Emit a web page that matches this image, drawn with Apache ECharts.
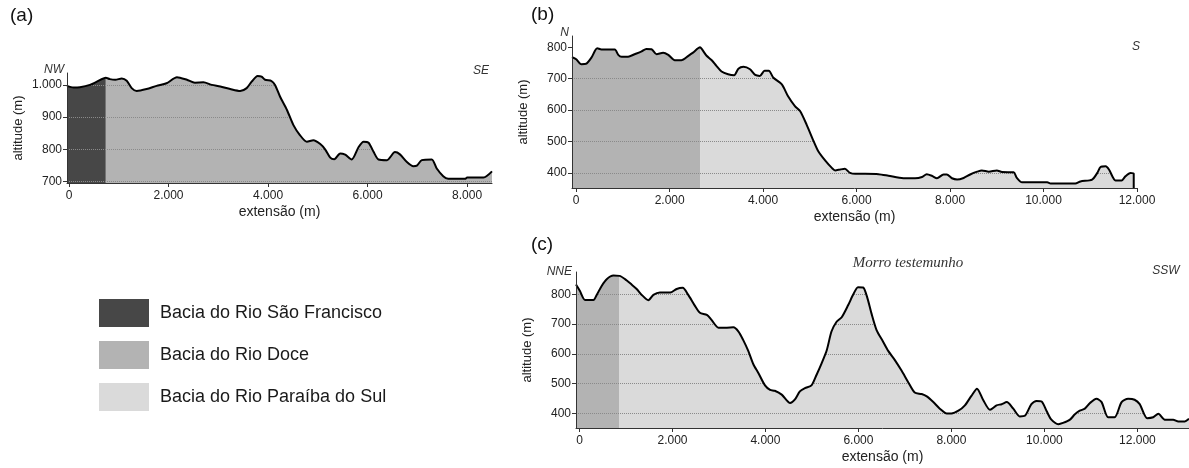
<!DOCTYPE html>
<html lang="pt">
<head>
<meta charset="utf-8">
<title>Perfis topográficos</title>
<script src="https://cdn.jsdelivr.net/npm/echarts@6/dist/echarts.min.js"></script>
<style>
  html, body { margin: 0; padding: 0; background: #ffffff; }
  #chart { width: 1189px; height: 468px; }
</style>
</head>
<body>
<div id="chart"></div>
<script>
// Bacias hidrográficas atravessadas pelos perfis
const basins = ['Bacia do Rio São Francisco', 'Bacia do Rio Doce', 'Bacia do Rio Paraíba do Sul'];
const basinColors = ['#474747', '#b3b3b3', '#dadada'];

// Perfil (a): extensão (m), altitude (m)
const profileA = [
  [-40, 997], [90, 992], [220, 993], [420, 1000], [560, 1010], [740, 1022], [820, 1018], [930, 1016],
  [1060, 1020], [1160, 1013], [1260, 990], [1360, 981], [1560, 987], [1760, 997], [1960, 1005],
  [2170, 1024], [2370, 1016], [2530, 1007], [2700, 1008], [2870, 1000], [3040, 995], [3240, 987],
  [3440, 981], [3570, 990], [3670, 1010], [3790, 1028], [3870, 1026], [3940, 1016], [4070, 1012],
  [4140, 1000], [4240, 964], [4380, 922], [4510, 875], [4640, 844], [4780, 823], [4910, 828],
  [5050, 816], [5150, 799], [5250, 774], [5330, 769], [5450, 787], [5550, 783], [5680, 768],
  [5820, 807], [5920, 823], [6020, 820], [6120, 792], [6220, 768], [6390, 766], [6550, 791],
  [6650, 784], [6790, 760], [6920, 747], [6990, 749], [7090, 766], [7290, 768], [7390, 740],
  [7520, 716], [7620, 708], [7960, 708], [8000, 712], [8330, 712], [8500, 731]
];
// Perfil (b)
const profileB = [
  [-90, 769], [0, 762], [110, 746], [220, 748], [325, 767], [450, 797], [540, 793], [825, 793],
  [900, 776], [970, 770], [1110, 770], [1250, 778], [1400, 787], [1500, 795], [1610, 794],
  [1720, 778], [1860, 783], [1970, 776], [2110, 759], [2250, 759], [2400, 773], [2500, 783],
  [2650, 800], [2690, 794], [2790, 773], [2900, 759], [3000, 741], [3110, 723], [3250, 714],
  [3380, 711], [3470, 732], [3580, 738], [3720, 730], [3830, 712], [3930, 709], [4030, 725],
  [4120, 725], [4220, 703], [4400, 682], [4530, 645], [4680, 613], [4790, 597], [4930, 554],
  [5080, 501], [5180, 469], [5330, 439], [5470, 416], [5540, 408], [5650, 411], [5750, 413],
  [5860, 400], [5970, 397], [6180, 397], [6470, 396], [6680, 391], [7000, 383], [7250, 383],
  [7400, 387], [7500, 396], [7610, 391], [7720, 383], [7860, 395], [7930, 395], [8040, 383],
  [8150, 379], [8290, 384], [8430, 395], [8580, 404], [8680, 408], [8830, 404], [9000, 408],
  [9110, 403], [9360, 402], [9430, 384], [9540, 370], [9750, 370], [10080, 370], [10150, 366],
  [10680, 366], [10790, 373], [11040, 379], [11150, 400], [11220, 419], [11330, 421],
  [11400, 411], [11540, 376], [11670, 376], [11750, 389], [11860, 400], [11930, 397]
];
// Perfil (c)
const profileC = [
  [-75, 833], [10, 811], [120, 781], [300, 781], [370, 798], [480, 829], [585, 851], [730, 863],
  [860, 862], [980, 851], [1120, 833], [1230, 818], [1340, 798], [1480, 780], [1590, 798],
  [1730, 806], [1950, 806], [2090, 818], [2220, 822], [2340, 798], [2480, 762], [2590, 738],
  [2740, 731], [2840, 714], [2990, 688], [3170, 688], [3310, 689], [3420, 675], [3520, 647],
  [3630, 610], [3740, 565], [3850, 535], [3990, 494], [4100, 479], [4200, 476], [4350, 463],
  [4530, 435], [4630, 446], [4740, 474], [4850, 485], [4990, 494], [5100, 530], [5210, 569],
  [5320, 613], [5420, 675], [5530, 708], [5640, 723], [5780, 764], [5890, 800], [5990, 824],
  [6100, 823], [6190, 789], [6280, 736], [6390, 680], [6530, 641], [6640, 610], [6780, 580],
  [6930, 543], [7070, 505], [7210, 470], [7360, 465], [7470, 457], [7610, 438], [7750, 416],
  [7900, 400], [8000, 400], [8150, 409], [8290, 427], [8430, 459], [8550, 483], [8680, 446],
  [8830, 412], [8970, 427], [9080, 431], [9190, 438], [9330, 416], [9470, 390], [9580, 392],
  [9720, 431], [9830, 442], [9940, 440], [10050, 407], [10150, 379], [10300, 364], [10400, 368],
  [10550, 379], [10650, 396], [10760, 409], [10870, 416], [10980, 435], [11120, 449],
  [11230, 438], [11370, 387], [11510, 387], [11660, 438], [11800, 449], [11940, 446],
  [12050, 431], [12210, 384], [12340, 387], [12450, 399], [12590, 379], [12770, 379],
  [12880, 373], [13020, 373], [13110, 382]
];

// Divisores de águas (extensão, m) e bacias à esquerda/direita de cada um
const dividesAt = [740, 2650, 860];
const basinPairs = [[0, 1], [1, 2], [1, 2]];

// Extensão dos eixos
const xExtents = [[-40, 8500], [-90, 12000], [-75, 13110]];
const yExtents = [[695, 1037], [352, 836], [351, 875]];
const xStep = 2000;
const yStep = 100;

const profiles = [profileA, profileB, profileC];
const grids = [
  { left: 67, top: 73, width: 425, height: 110 },
  { left: 572, top: 36, width: 565, height: 152 },
  { left: 576, top: 272, width: 613, height: 156 }
].map(g => Object.assign(g, { containLabel: false, outerBoundsMode: 'none' }));

const fontFamily = '"Liberation Sans", Arial, sans-serif';
const ptNumber = v => String(v).replace(/\B(?=(\d{3})+(?!\d))/g, '.');
const smooth = 0.25;

const xAxes = [], yAxes = [], series = [];
profiles.forEach((profile, i) => {
  const [xMin, xMax] = xExtents[i];
  const [yMin, yMax] = yExtents[i];
  xAxes.push({
    type: 'value', gridIndex: i, position: 'bottom', min: xMin, max: xMax,
    minInterval: xStep, maxInterval: xStep, z: 6,
    name: 'extensão (m)', nameLocation: 'middle', nameGap: 22,
    nameTextStyle: { fontSize: 14, color: '#222' },
    axisLine: { show: true, onZero: false, lineStyle: { color: '#333', width: 1 } },
    axisTick: { show: true, length: 4, lineStyle: { color: '#333' } },
    axisLabel: {
      formatter: ptNumber, fontSize: 12, color: '#222', margin: 7,
      showMinLabel: false, showMaxLabel: xMax % xStep === 0
    },
    splitLine: { show: false }
  });
  const yBase = {
    type: 'value', gridIndex: i, position: 'left', offset: 0,
    min: yMin, max: yMax, minInterval: yStep, maxInterval: yStep
  };
  // Linhas de grade (ficam sob a máscara branca acima do perfil)
  yAxes.push(Object.assign({}, yBase, {
    z: 3,
    axisLine: { show: false }, axisTick: { show: false }, axisLabel: { show: false },
    splitLine: {
      show: true, showMinLine: false, showMaxLine: false,
      lineStyle: { color: '#8a8a8a', type: 'dotted', width: 1 }
    }
  }));
  // Eixo com rótulos, por cima de tudo
  yAxes.push(Object.assign({}, yBase, {
    z: 6,
    name: 'altitude (m)', nameLocation: 'middle', nameGap: 42, nameRotate: 90,
    nameTextStyle: { fontSize: 13, color: '#222' },
    axisLine: { show: true, onZero: false, lineStyle: { color: '#333', width: 1 } },
    axisTick: { show: true, length: 4, lineStyle: { color: '#333' } },
    axisLabel: { formatter: ptNumber, fontSize: 12, color: '#222', margin: 5, showMinLabel: false, showMaxLabel: false },
    splitLine: { show: false }
  }));

  const yIdx = 2 * i;
  // Preenchimento por bacia, de cada lado do divisor
  const divide = dividesAt[i];
  const parts = [profile.filter(p => p[0] <= divide), profile.filter(p => p[0] >= divide)];
  parts.forEach((part, k) => {
    const b = basinPairs[i][k];
    series.push({
      type: 'line', name: basins[b], xAxisIndex: i, yAxisIndex: yIdx, data: part,
      symbol: 'none', smooth, silent: true, z: 1,
      lineStyle: { width: 0, color: basinColors[b] },
      itemStyle: { color: basinColors[b] },
      areaStyle: { color: basinColors[b], opacity: 1, origin: 'start' }
    });
  });
  // Máscara branca acima do perfil: a grade só aparece dentro do terreno
  const maskStyle = {
    type: 'line', xAxisIndex: i, yAxisIndex: yIdx, symbol: 'none', silent: true, z: 4,
    lineStyle: { width: 0, color: '#ffffff' },
    areaStyle: { color: '#ffffff', opacity: 1, origin: 'end' }
  };
  series.push(Object.assign({ data: profile, smooth }, maskStyle));
  const last = profile[profile.length - 1];
  if (last[0] < xMax) {
    // trecho do eixo além do fim do perfil
    series.push(Object.assign({ data: [[last[0], yMin], [xMax, yMin]] }, maskStyle));
  }
  // Linha do perfil, fechando até a base quando termina antes do fim do eixo
  const outline = last[0] < xMax ? profile.concat([[last[0], yMin]]) : profile;
  series.push({
    type: 'line', xAxisIndex: i, yAxisIndex: yIdx, data: outline,
    symbol: 'none', smooth, silent: true, z: 5,
    lineStyle: { width: 2, color: '#000' }
  });
});

const note = (text, x, y, align, font) => ({
  type: 'text', x, y, z: 10,
  style: { text, font, fill: '#333', align, verticalAlign: 'middle' }
});
const italic = `italic 12px ${fontFamily}`;
const option = {
  animation: false,
  backgroundColor: '#ffffff',
  textStyle: { fontFamily },
  title: [
    { text: '(a)', left: 10, top: 6 },
    { text: '(b)', left: 531, top: 5 },
    { text: '(c)', left: 531, top: 235 }
  ].map(t => Object.assign(t, { padding: 0, textStyle: { fontSize: 19, fontWeight: 'normal', color: '#111', fontFamily } })),
  legend: {
    data: basins, orient: 'vertical', left: 99, top: 299, padding: 0,
    itemWidth: 50, itemHeight: 28, itemGap: 14, icon: 'rect', selectedMode: false,
    itemStyle: { borderWidth: 0 },
    textStyle: { fontSize: 18, color: '#1a1a1a', padding: [0, 0, 0, 6] }
  },
  grid: grids,
  xAxis: xAxes,
  yAxis: yAxes,
  series,
  graphic: [
    note('NW', 64, 70, 'right', italic),
    note('SE', 481, 71, 'center', italic),
    note('N', 569, 33, 'right', italic),
    note('S', 1136, 47, 'center', italic),
    note('NNE', 572, 272, 'right', italic),
    note('SSW', 1166, 271, 'center', italic),
    note('Morro testemunho', 908, 263, 'center', 'italic 15px "Liberation Serif", "Times New Roman", serif')
  ]
};

const chart = echarts.init(document.getElementById('chart'), null, { renderer: 'canvas' });
chart.setOption(option);
</script>
</body>
</html>
